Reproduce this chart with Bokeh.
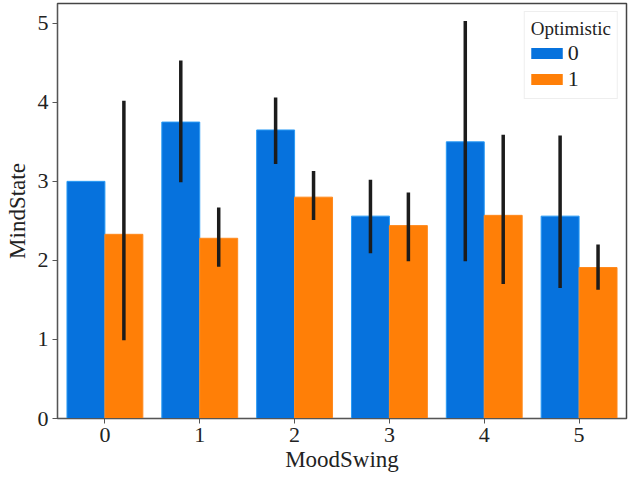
from bokeh.plotting import figure
from bokeh.models import ColumnDataSource, FactorRange, Range1d, Legend, LegendItem
from bokeh.transform import dodge
from bokeh.embed import file_html
from bokeh.resources import INLINE

# ---- data ----
categories = ["0", "1", "2", "3", "4", "5"]
blue_mean = [3.00, 3.75, 3.65, 2.56, 3.50, 2.56]
blue_lo = [3.00, 2.99, 3.22, 2.09, 1.99, 1.65]
blue_hi = [3.00, 4.53, 4.06, 3.02, 5.03, 3.58]
orange_mean = [2.33, 2.28, 2.80, 2.44, 2.57, 1.91]
orange_lo = [0.99, 1.92, 2.51, 1.99, 1.70, 1.63]
orange_hi = [4.02, 2.67, 3.13, 2.86, 3.59, 2.20]
y_ticks = [0, 1, 2, 3, 4, 5]
legend_title = "Optimistic"
legend_labels = ["0", "1"]

BLUE = "#0672DD"
BLUE_EDGE = "#2A9BF5"
ORANGE = "#FF7F07"
ORANGE_EDGE = "#FF8A1E"
ERR = "#1c1c1c"
AXIS = "#555555"
FONT = "Liberation Serif"

src = ColumnDataSource(dict(
    cat=categories,
    blue=blue_mean, blue_lo=blue_lo, blue_hi=blue_hi,
    orange=orange_mean, orange_lo=orange_lo, orange_hi=orange_hi,
))

p = figure(
    x_range=FactorRange(*categories),
    y_range=Range1d(0, 5.25),
    width=629, height=485,
    min_border_left=57, min_border_right=3, min_border_top=3, min_border_bottom=67,
    output_backend="svg", toolbar_location=None, title=None,
    background_fill_color="white", border_fill_color="white",
)

p.vbar(x=dodge("cat", -0.2, range=p.x_range), top="blue", width=0.4, source=src,
       fill_color=BLUE, line_color=BLUE_EDGE, line_width=1)
p.vbar(x=dodge("cat", 0.2, range=p.x_range), top="orange", width=0.4, source=src,
       fill_color=ORANGE, line_color=ORANGE_EDGE, line_width=1)

p.segment(x0=dodge("cat", -0.2, range=p.x_range), y0="blue_lo",
          x1=dodge("cat", -0.2, range=p.x_range), y1="blue_hi",
          source=src, line_color=ERR, line_width=3.5)
p.segment(x0=dodge("cat", 0.2, range=p.x_range), y0="orange_lo",
          x1=dodge("cat", 0.2, range=p.x_range), y1="orange_hi",
          source=src, line_color=ERR, line_width=3.5)

# legend swatches (thick line glyphs give flat rectangular swatches)
nan = float("nan")
r0 = p.line(x=[categories[0]], y=[nan], line_color=BLUE, line_width=11)
r1 = p.line(x=[categories[0]], y=[nan], line_color=ORANGE, line_width=11)
legend = Legend(
    items=[LegendItem(label=legend_labels[0], renderers=[r0]),
           LegendItem(label=legend_labels[1], renderers=[r1])],
    title=legend_title, location="top_right", margin=8,
    padding=6, spacing=0, glyph_width=32, glyph_height=24, label_height=24,
    label_standoff=5, title_standoff=0,
    label_text_font=FONT, label_text_font_size="22px", label_text_color="#222222",
    title_text_font=FONT, title_text_font_size="19px", title_text_font_style="normal",
    title_text_color="#222222",
    border_line_color="#dddddd", border_line_width=1,
    background_fill_color="white", background_fill_alpha=0.85,
)
p.add_layout(legend)

p.xgrid.visible = False
p.ygrid.visible = False
p.outline_line_color = "#444444"
p.outline_line_width = 1.5
p.outline_line_alpha = 1.0

p.yaxis.ticker = y_ticks
for ax in (p.xaxis, p.yaxis):
    ax.axis_line_color = AXIS
    ax.major_tick_line_color = AXIS
    ax.major_tick_out = 5
    ax.major_tick_in = 0
    ax.minor_tick_line_color = None
    ax.major_label_text_font = FONT
    ax.major_label_text_font_size = "22px"
    ax.major_label_text_color = "#222222"
    ax.major_label_standoff = 4
    ax.axis_label_text_font = FONT
    ax.axis_label_text_font_size = "23px"
    ax.axis_label_text_font_style = "normal"
    ax.axis_label_text_color = "#222222"

p.xaxis.axis_label = "MoodSwing"
p.yaxis.axis_label = "MindState"
p.xaxis.axis_label_standoff = 2
p.yaxis.axis_label_standoff = 5

open("out.html", "w").write(file_html(p, INLINE))
